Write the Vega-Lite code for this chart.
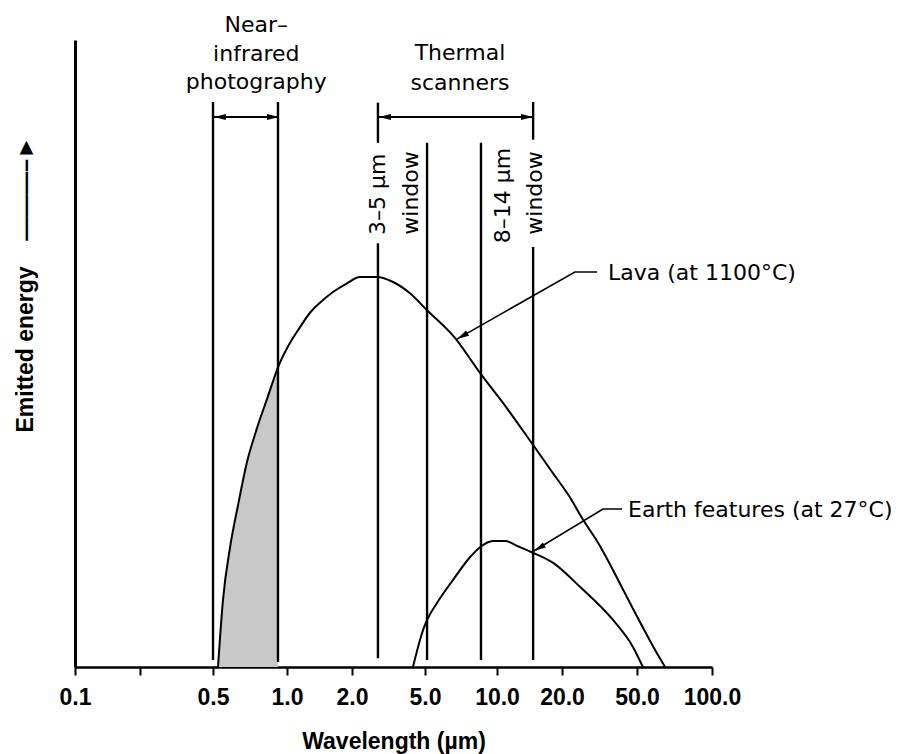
{
  "$schema": "https://vega.github.io/schema/vega-lite/v6.json",
  "width": 637,
  "height": 627,
  "autosize": {"type": "none"},
  "padding": {"left": 75, "top": 40, "right": 186, "bottom": 87},
  "background": "white",
  "config": {"view": {"stroke": null}, "axis": {"grid": false}},
  "datasets": {
    "lava": [
      {"x": 0.524, "y": 0}, {"x": 0.549, "y": 10.7}, {"x": 0.586, "y": 19.0}, {"x": 0.632, "y": 25.8},
      {"x": 0.6875, "y": 32.7}, {"x": 0.755, "y": 38.1}, {"x": 0.837, "y": 43.2}, {"x": 0.919, "y": 47.8},
      {"x": 1.033, "y": 51.7}, {"x": 1.149, "y": 54.2}, {"x": 1.278, "y": 56.5}, {"x": 1.422, "y": 58.1},
      {"x": 1.633, "y": 59.8}, {"x": 1.896, "y": 61.2}, {"x": 2.21, "y": 62.2}, {"x": 2.74, "y": 62.2},
      {"x": 3.35, "y": 61.4}, {"x": 4.14, "y": 59.6}, {"x": 5.1, "y": 56.9}, {"x": 6.67, "y": 52.5},
      {"x": 8.49, "y": 46.9}, {"x": 11.1, "y": 41.3}, {"x": 14.7, "y": 35.4}, {"x": 18.0, "y": 31.1},
      {"x": 22.1, "y": 27.0}, {"x": 25.5, "y": 23.8}, {"x": 31.8, "y": 19.3}, {"x": 39.2, "y": 14.2},
      {"x": 47.0, "y": 9.6}, {"x": 54.8, "y": 5.1}, {"x": 60.7, "y": 1.9}, {"x": 64.8, "y": 0}
    ],
    "earth": [
      {"x": 4.3, "y": 0}, {"x": 4.88, "y": 5.9}, {"x": 5.1, "y": 7.5}, {"x": 5.61, "y": 10.2},
      {"x": 6.55, "y": 13.9}, {"x": 7.71, "y": 17.5}, {"x": 8.49, "y": 19.1}, {"x": 9.62, "y": 20.1},
      {"x": 10.9, "y": 20.1}, {"x": 12.4, "y": 19.3}, {"x": 14.5, "y": 18.3}, {"x": 18.2, "y": 16.6},
      {"x": 24.9, "y": 12.8}, {"x": 37.3, "y": 7.5}, {"x": 47.6, "y": 3.2}, {"x": 52.8, "y": 0}
    ],
    "vlines": [
      {"x": 0.5, "y": 90.1, "y2": 1.1},
      {"x": 0.919, "y": 90.1, "y2": 0.8},
      {"x": 2.77, "y": 90.0, "y2": 83.6},
      {"x": 2.77, "y": 67.6, "y2": 1.4},
      {"x": 5.1, "y": 83.6, "y2": 1.1},
      {"x": 8.57, "y": 83.6, "y2": 1.1},
      {"x": 14.7, "y": 90.1, "y2": 84.1},
      {"x": 14.7, "y": 67.0, "y2": 1.1}
    ],
    "brackets": [
      {"x": 0.5, "x2": 0.919, "y": 87.7},
      {"x": 2.77, "x2": 14.7, "y": 87.7}
    ],
    "headsLeft": [{"x": 0.541, "y": 87.7}, {"x": 3.08, "y": 87.7}],
    "headsRight": [{"x": 0.865, "y": 87.7}, {"x": 13.55, "y": 87.7}],
    "headsLeader": [{"x": 7.25, "y": 52.9}, {"x": 15.9, "y": 19.1}],
    "leaders": [
      {"series": "lava", "x": 30.7, "y": 63.0}, {"series": "lava", "x": 23.4, "y": 63.0}, {"series": "lava", "x": 6.8, "y": 52.3},
      {"series": "earth", "x": 41.6, "y": 25.2}, {"series": "earth", "x": 33.0, "y": 25.2}, {"series": "earth", "x": 14.8, "y": 18.5}
    ],
    "headings": [
      {"x": 0.75, "y": 101.3, "text": "Near–"},
      {"x": 0.75, "y": 96.6, "text": "infrared"},
      {"x": 0.75, "y": 92.2, "text": "photography"},
      {"x": 7.0, "y": 96.8, "text": "Thermal"},
      {"x": 7.0, "y": 92.0, "text": "scanners"}
    ],
    "windows": [
      {"x": 3.03, "y": 75.4, "text": "3–5 µm"},
      {"x": 4.58, "y": 75.6, "text": "window"},
      {"x": 11.5, "y": 75.2, "text": "8–14 µm"},
      {"x": 16.2, "y": 75.6, "text": "window"}
    ],
    "curveLabels": [
      {"x": 35.1, "y": 61.7, "text": "Lava (at 1100°C)"},
      {"x": 44.8, "y": 23.9, "text": "Earth features (at 27°C)"}
    ]
  },
  "encoding": {
    "x": {
      "field": "x",
      "type": "quantitative",
      "scale": {
        "type": "log",
        "domain": [0.1, 0.2, 0.5, 1, 2, 5, 10, 20, 50, 100],
        "range": [0, 65, 138, 212, 277, 350, 422, 487, 562, 637],
        "nice": false
      },
      "axis": {
        "values": [0.1, 0.2, 0.5, 1, 2, 5, 10, 20, 50, 100],
        "labelExpr": "datum.value == 0.2 ? '' : format(datum.value, '.1f')",
        "title": "Wavelength (µm)",
        "grid": false,
        "domainColor": "black",
        "domainWidth": 2.5,
        "tickColor": "black",
        "tickWidth": 2,
        "tickSize": 8,
        "labelFont": "Liberation Sans",
        "labelFontWeight": "bold",
        "labelFontSize": 23,
        "labelColor": "black",
        "labelBaseline": "alphabetic",
        "labelPadding": 29,
        "labelOverlap": false,
        "labelFlush": false,
        "titleFont": "Liberation Sans",
        "titleFontWeight": "bold",
        "titleFontSize": 23,
        "titleColor": "black",
        "titleBaseline": "alphabetic",
        "titleY": 81
      }
    },
    "y": {
      "field": "y",
      "type": "quantitative",
      "scale": {"domain": [0, 100], "nice": false},
      "axis": {
        "title": "Emitted energy\u00a0\u00a0\u00a0\u00a0———–►",
        "labels": false,
        "ticks": false,
        "grid": false,
        "domainColor": "black",
        "domainWidth": 3,
        "titleAngle": 270,
        "titleAlign": "left",
        "titleBaseline": "alphabetic",
        "titleX": -43,
        "titleY": 392,
        "titleFont": "Liberation Sans",
        "titleFontWeight": "bold",
        "titleFontSize": 23,
        "titleColor": "black"
      }
    }
  },
  "layer": [
    {
      "data": {"name": "lava"},
      "transform": [{"filter": "datum.x <= 0.92"}],
      "mark": {"type": "area", "color": "#c8c8c8", "interpolate": "monotone"}
    },
    {
      "data": {"name": "vlines"},
      "mark": {"type": "rule", "color": "black", "strokeWidth": 2.4},
      "encoding": {"y2": {"field": "y2"}}
    },
    {
      "data": {"name": "brackets"},
      "mark": {"type": "rule", "color": "black", "strokeWidth": 2},
      "encoding": {"x2": {"field": "x2"}}
    },
    {
      "data": {"name": "lava"},
      "mark": {"type": "line", "color": "black", "strokeWidth": 2, "interpolate": "monotone"}
    },
    {
      "data": {"name": "earth"},
      "mark": {"type": "line", "color": "black", "strokeWidth": 2, "interpolate": "monotone"}
    },
    {
      "data": {"name": "leaders"},
      "mark": {"type": "line", "color": "black", "strokeWidth": 1.6},
      "encoding": {"detail": {"field": "series"}}
    },
    {
      "data": {"name": "headsLeft"},
      "mark": {"type": "point", "shape": "M0,-1L0.4,0.6L-0.4,0.6Z", "filled": true, "color": "black", "opacity": 1, "size": 225, "angle": 270}
    },
    {
      "data": {"name": "headsRight"},
      "mark": {"type": "point", "shape": "M0,-1L0.4,0.6L-0.4,0.6Z", "filled": true, "color": "black", "opacity": 1, "size": 225, "angle": 90}
    },
    {
      "data": {"name": "headsLeader"},
      "mark": {"type": "point", "shape": "M0,-1L0.4,0.6L-0.4,0.6Z", "filled": true, "color": "black", "opacity": 1, "size": 225, "angle": 240}
    },
    {
      "data": {"name": "headings"},
      "mark": {"type": "text", "font": "DejaVu Sans", "fontSize": 22, "color": "black", "align": "center", "baseline": "alphabetic"},
      "encoding": {"text": {"field": "text"}}
    },
    {
      "data": {"name": "windows"},
      "mark": {"type": "text", "font": "DejaVu Sans", "fontSize": 22, "color": "black", "align": "center", "baseline": "alphabetic", "angle": 270},
      "encoding": {"text": {"field": "text"}}
    },
    {
      "data": {"name": "curveLabels"},
      "mark": {"type": "text", "font": "DejaVu Sans", "fontSize": 22, "color": "black", "align": "left", "baseline": "alphabetic"},
      "encoding": {"text": {"field": "text"}}
    }
  ]
}
